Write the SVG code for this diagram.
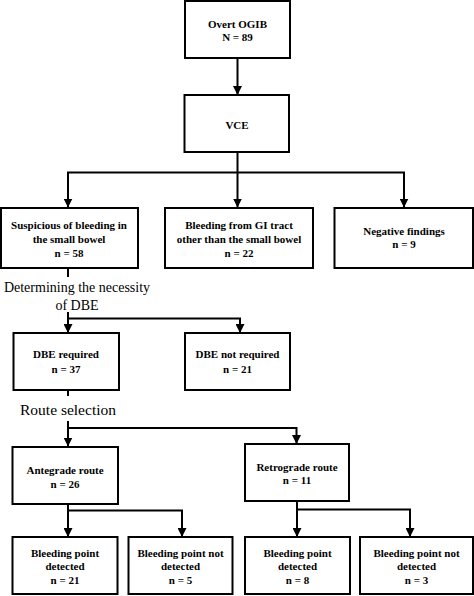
<svg xmlns="http://www.w3.org/2000/svg" width="474" height="596" viewBox="0 0 474 596">
<style>
.box{fill:#fff;stroke:#000;stroke-width:2}
.t{font-family:"Liberation Serif","Times New Roman",serif;font-weight:bold;font-size:11px;text-anchor:middle;fill:#000}
.h{font-family:"Liberation Serif","Times New Roman",serif;font-size:14px;text-anchor:middle;fill:#000}
.c{fill:none;stroke:#000;stroke-width:2}
</style>
<defs>
<marker id="ah" markerUnits="userSpaceOnUse" markerWidth="9" markerHeight="9" viewBox="0 0 9 9" refX="9" refY="4.5" orient="auto">
<path d="M0,0 L9,4.5 L0,9 z" fill="#000"/>
</marker>
</defs>
<rect width="474" height="596" fill="#fff"/>
<g id="connectors">
<path class="c" d="M237.5,58 V95" marker-end="url(#ah)"/>
<path class="c" d="M237.5,152 V172.5"/>
<path class="c" d="M237.5,172.5 H68 V207.5" marker-end="url(#ah)"/>
<path class="c" d="M237.5,172.5 H404 V207.5" marker-end="url(#ah)"/>
<path class="c" d="M237.5,172.5 V207.5" marker-end="url(#ah)"/>
<path class="c" d="M68,268 V277"/>
<path class="c" d="M68,312 V333" marker-end="url(#ah)"/>
<path class="c" d="M68,318.5 H240 V333" marker-end="url(#ah)"/>
<path class="c" d="M68,390 V396"/>
<path class="c" d="M68,421 V446.5" marker-end="url(#ah)"/>
<path class="c" d="M68,428 H296.5 V444" marker-end="url(#ah)"/>
<path class="c" d="M68,504 V510.5 H182 V537" marker-end="url(#ah)"/>
<path class="c" d="M68,510.5 V537" marker-end="url(#ah)"/>
<path class="c" d="M297,501 V509.5 H410 V537" marker-end="url(#ah)"/>
<path class="c" d="M297,509.5 V537" marker-end="url(#ah)"/>
</g>
<g id="n1"><rect class="box" x="185" y="1" width="105" height="57"/><text class="t" x="237.5" y="28">Overt OGIB</text><text class="t" x="237.5" y="40.5">N = 89</text></g>
<g id="n2"><rect class="box" x="184.5" y="95" width="104.5" height="57"/><text class="t" x="237" y="129">VCE</text></g>
<g id="n3"><rect class="box" x="1" y="208" width="137" height="60"/><text class="t" x="69" y="229">Suspicious of bleeding in</text><text class="t" x="69" y="243">the small bowel</text><text class="t" x="69" y="257">n = 58</text></g>
<g id="n4"><rect class="box" x="165" y="208" width="148" height="60"/><text class="t" x="239" y="229">Bleeding from GI tract</text><text class="t" x="239" y="243">other than the small bowel</text><text class="t" x="239" y="257">n = 22</text></g>
<g id="n5"><rect class="box" x="334.5" y="208" width="138.5" height="60"/><text class="t" x="404" y="235">Negative findings</text><text class="t" x="404" y="248">n = 9</text></g>
<g id="l1"><text class="h" x="77" y="292">Determining the necessity</text><text class="h" x="77" y="310">of DBE</text></g>
<g id="n6"><rect class="box" x="13.5" y="333" width="105.5" height="57"/><text class="t" x="66" y="358">DBE required</text><text class="t" x="66" y="372.5">n = 37</text></g>
<g id="n7"><rect class="box" x="185" y="333" width="105" height="57"/><text class="t" x="237.5" y="358">DBE not required</text><text class="t" x="237.5" y="372.5">n = 21</text></g>
<g id="l2"><text class="h" x="68" y="415" style="font-size:15.5px">Route selection</text></g>
<g id="n8"><rect class="box" x="12.5" y="447" width="105.5" height="57"/><text class="t" x="65" y="474">Antegrade route</text><text class="t" x="65" y="488">n = 26</text></g>
<g id="n9"><rect class="box" x="245" y="444" width="104" height="57"/><text class="t" x="297" y="470.5">Retrograde route</text><text class="t" x="297" y="484">n = 11</text></g>
<g id="n10"><rect class="box" x="12.5" y="537" width="105" height="57"/><text class="t" x="65" y="556.5">Bleeding point</text><text class="t" x="65" y="570">detected</text><text class="t" x="65" y="584">n = 21</text></g>
<g id="n11"><rect class="box" x="128.5" y="537" width="104" height="57"/><text class="t" x="180.5" y="556.5">Bleeding point not</text><text class="t" x="180.5" y="570">detected</text><text class="t" x="180.5" y="584">n = 5</text></g>
<g id="n12"><rect class="box" x="245" y="537" width="105" height="57"/><text class="t" x="297.5" y="556.5">Bleeding point</text><text class="t" x="297.5" y="570">detected</text><text class="t" x="297.5" y="584">n = 8</text></g>
<g id="n13"><rect class="box" x="360" y="537" width="113" height="57"/><text class="t" x="416.5" y="556.5">Bleeding point not</text><text class="t" x="416.5" y="570">detected</text><text class="t" x="416.5" y="584">n = 3</text></g>
</svg>
